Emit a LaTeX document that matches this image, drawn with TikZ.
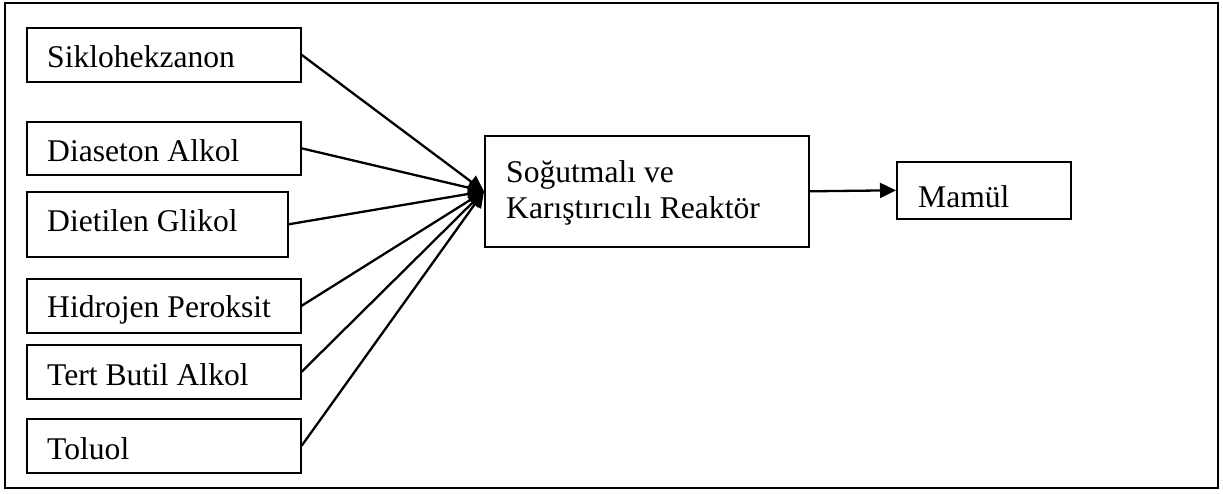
\documentclass[tikz,border=0pt]{standalone}
\usepackage{fontspec}
\setmainfont{Liberation Serif}
\usetikzlibrary{arrows.meta,calc}
\begin{document}
\begin{tikzpicture}[x=1pt,y=-1pt,
  box/.style={draw,line width=1.6pt,rectangle,inner sep=0pt,anchor=north west},
  lbl/.style={anchor=base west,inner sep=0pt,font=\fontsize{31.6}{36}\selectfont},
  conn/.style={line width=2.3pt,-{Triangle[length=16pt,width=15pt]}}]
  \useasboundingbox (0,0) rectangle (1223,493);
  % outer frame
  \draw[line width=2pt] (5,3) rectangle (1218,488);
  % feed boxes
  \node[box,minimum width=274pt,minimum height=54pt] (siklo) at (26,27) {};
  \node[box,minimum width=274pt,minimum height=53pt] (diaset) at (26,121) {};
  \node[box,minimum width=261pt,minimum height=65pt] (dietil) at (26,191) {};
  \node[box,minimum width=274pt,minimum height=54pt] (hidro) at (26,278) {};
  \node[box,minimum width=274pt,minimum height=54pt] (tert) at (26,344) {};
  \node[box,minimum width=274pt,minimum height=54pt] (toluol) at (26,418) {};
  \node[lbl] (siklo-t) at ($(siklo.north west)+(21,40)$) {Siklohekzanon};
  \node[lbl] (diaset-t) at ($(diaset.north west)+(21,40)$) {Diaseton Alkol};
  \node[lbl] (dietil-t) at ($(dietil.north west)+(21,40)$) {Dietilen Glikol};
  \node[lbl] (hidro-t) at ($(hidro.north west)+(21,39)$) {Hidrojen Peroksit};
  \node[lbl] (tert-t) at ($(tert.north west)+(21,41)$) {Tert Butil Alkol};
  \node[lbl] (toluol-t) at ($(toluol.north west)+(21,41)$) {Toluol};
  % reactor and product
  \node[box,minimum width=324pt,minimum height=111pt] (reactor) at (484,135) {};
  \node[lbl] (reactor-t1) at ($(reactor.north west)+(22,47)$) {Soğutmalı ve};
  \node[lbl] (reactor-t2) at ($(reactor.north west)+(22,83)$) {Karıştırıcılı Reaktör};
  \node[box,minimum width=174pt,minimum height=57pt] (mamul) at (896,161) {};
  \node[lbl] (mamul-t) at ($(mamul.north west)+(22,46)$) {Mamül};
  % connectors
  \foreach \src in {siklo,diaset,dietil,hidro,tert,toluol}
    \draw[conn] (\src.east) -- (reactor.west);
  \draw[conn] (reactor.east) -- (mamul.west);
\end{tikzpicture}
\end{document}
